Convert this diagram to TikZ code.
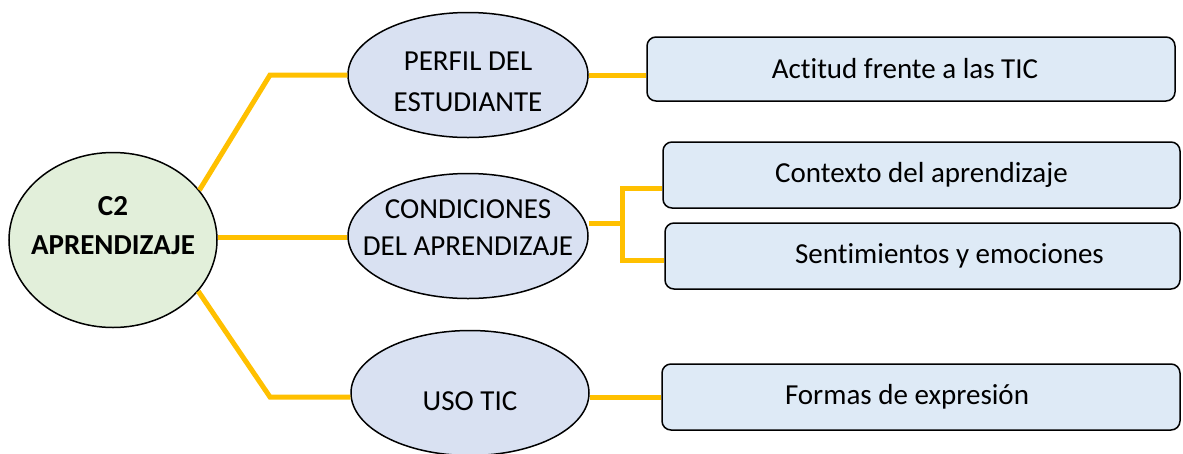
\documentclass[tikz,border=0pt]{standalone}
\usepackage{fontspec}
\setmainfont{Carlito}[Ligatures=NoCommon]
\usetikzlibrary{calc, positioning, shapes.geometric}
\definecolor{linkyellow}{HTML}{FFC000}
\definecolor{mainfill}{HTML}{E2EFDA}
\definecolor{ovalfill}{HTML}{D9E1F2}
\definecolor{boxfill}{HTML}{DEEAF6}

\begin{document}
\begin{tikzpicture}[x=1pt, y=-1pt,
    oval/.style={draw, ellipse, line width=1.5pt, fill=#1, inner ysep=0pt, inner xsep=-40pt, align=center},
    item/.style={draw, rounded corners=9pt, line width=1.5pt, fill=boxfill, inner sep=0pt, font=\fontsize{29}{35}\selectfont},
    link/.style={linkyellow, line width=5pt}
]
\useasboundingbox (0,0) rectangle (1183,453);
% ovals (rules only move the text inside the outline)
\node[oval=mainfill, minimum width=208pt, minimum height=175pt, font=\fontsize{29}{39}\selectfont\bfseries] (main) at (113,240) {C2\\APRENDIZAJE\rule[-29pt]{0pt}{29pt}};
\node[oval=ovalfill, minimum width=240pt, minimum height=125pt, font=\fontsize{29}{41}\selectfont] (perfil) at (468,75) {\rule{0pt}{32pt}PERFIL DEL\\ESTUDIANTE};
\node[oval=ovalfill, minimum width=240pt, minimum height=125pt, font=\fontsize{29}{37}\selectfont] (cond) at (468,236) {CONDICIONES\\DEL APRENDIZAJE\rule[-16pt]{0pt}{16pt}};
\node[oval=ovalfill, minimum width=238pt, minimum height=125pt, font=\fontsize{29}{37}\selectfont] (uso) at (470,393) {\rule{0pt}{35pt}USO TIC};

% boxes
\node[item, minimum width=528pt, minimum height=64pt] (actitud) at (911,69) {Actitud frente a las TIC\hspace*{12pt}};
\node[item, minimum width=517pt, minimum height=66pt] (contexto) at (921.5,175) {Contexto del aprendizaje};
\node[item, minimum width=515pt, minimum height=66pt] (sentim) at (922.5,256) {\hspace*{54pt}Sentimientos y emociones};
\node[item, minimum width=518pt, minimum height=66pt] (formas) at (921,397) {Formas de expresión\hspace*{28pt}};

\coordinate (k1) at (270,75);
\coordinate (k2) at (270,397);
\coordinate (fork) at (622,223);

\draw[link] (main.30) -- (k1) -- (k1 -| perfil.west);
\draw[link] (main.east |- 0,237) -- (cond.west |- 0,237);
\draw[link] (main.-31) -- (k2) -- (k2 -| uso.west);
\draw[link] (perfil.east |- k1) -- (k1 -| actitud.west);
\draw[link] (uso.east |- k2) -- (k2 -| formas.west);
\draw[link] (cond.east |- fork) -- (fork);
\draw[link] (contexto.west |- 0,188) -| (fork |- 0,260) -- (sentim.west |- 0,260);
\end{tikzpicture}
\end{document}
